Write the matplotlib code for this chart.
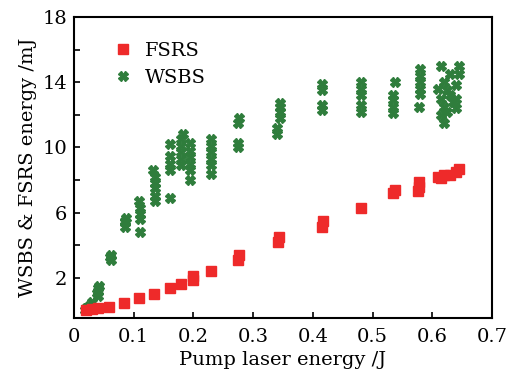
import matplotlib
matplotlib.use("Agg")
import matplotlib.pyplot as plt

plt.rcParams['font.family'] = ['DejaVu Serif']

fsrs_x = [0.02, 0.03, 0.04, 0.059, 0.084, 0.109, 0.134, 0.161, 0.179, 0.199, 0.2,
          0.229, 0.275, 0.277, 0.341, 0.343, 0.415, 0.417, 0.481, 0.534, 0.538,
          0.576, 0.577, 0.577, 0.61, 0.62, 0.63, 0.64, 0.645, 0.615]
fsrs_y = [0.05, 0.1, 0.15, 0.22, 0.47, 0.77, 1.0, 1.38, 1.63, 1.9, 2.1,
          2.43, 3.1, 3.4, 4.2, 4.5, 5.1, 5.5, 6.3, 7.2, 7.4,
          7.3, 7.6, 7.9, 8.2, 8.3, 8.3, 8.5, 8.7, 8.1]

wsbs_x = [0.018, 0.02, 0.025, 0.03, 0.03,
          0.04, 0.04, 0.042, 0.038, 0.04,
          0.062, 0.062, 0.06,
          0.085, 0.085, 0.087, 0.085,
          0.11, 0.11, 0.11, 0.11, 0.108,
          0.135, 0.135, 0.135, 0.135, 0.135, 0.133,
          0.16, 0.16, 0.16, 0.16, 0.16,
          0.18, 0.18, 0.18, 0.18, 0.18, 0.182,
          0.195, 0.195, 0.195, 0.195, 0.195, 0.195,
          0.23, 0.23, 0.23, 0.23, 0.23, 0.23,
          0.275, 0.275, 0.275, 0.277,
          0.34, 0.34, 0.345, 0.345, 0.345, 0.345,
          0.415, 0.415, 0.415, 0.415,
          0.48, 0.48, 0.48, 0.48, 0.48,
          0.535, 0.535, 0.535, 0.535, 0.537,
          0.578, 0.58, 0.58, 0.58, 0.58, 0.58,
          0.615, 0.62, 0.62, 0.615, 0.625, 0.62, 0.63, 0.635, 0.64, 0.64,
          0.645, 0.645, 0.615, 0.63, 0.64, 0.625, 0.61]
wsbs_y = [0.05, 0.15, 0.3, 0.5, 0.3,
          0.9, 1.2, 1.5, 1.1, 1.4,
          3.1, 3.4, 3.3,
          5.1, 5.4, 5.7, 5.5,
          4.8, 5.6, 5.9, 6.3, 6.7,
          6.7, 7.0, 7.5, 7.8, 8.2, 8.6,
          6.9, 8.6, 9.0, 9.5, 10.2,
          8.9, 9.3, 9.7, 10.1, 10.5, 10.8,
          8.0, 8.6, 9.0, 9.4, 9.8, 10.3,
          8.4, 8.9, 9.3, 9.7, 10.1, 10.5,
          10.0, 10.3, 11.5, 11.8,
          10.8, 11.2, 11.8, 12.2, 12.5, 12.7,
          12.3, 12.6, 13.5, 13.9,
          12.2, 12.6, 13.2, 13.6, 14.0,
          12.1, 12.5, 12.9, 13.2, 14.0,
          12.5, 13.3, 13.6, 14.0, 14.4, 14.8,
          12.0, 11.5, 12.5, 13.0, 13.5, 14.0, 13.2, 12.8, 13.0, 13.8,
          14.5, 15.0, 15.0, 14.5, 12.4, 12.2, 13.6]

xticks = [0, 0.1, 0.2, 0.3, 0.4, 0.5, 0.6, 0.7]
xtick_labels = ['0', '0.1', '0.2', '0.3', '0.4', '0.5', '0.6', '0.7']
yticks = [2, 4, 6, 8, 10, 12, 14, 16, 18]
ytick_labels = ['2', '', '6', '', '10', '', '14', '', '18']

fig = plt.figure(figsize=(5.19, 3.77), dpi=100)
ax = fig.add_axes([0.1426, 0.1565, 0.8054, 0.7985])

ax.plot(fsrs_x, fsrs_y, linestyle='none', marker='s', markersize=7,
        color='#ee2a2a', label='FSRS', zorder=3)
ax.plot(wsbs_x, wsbs_y, linestyle='none', marker='X', markersize=7,
        color='#2f7d3c', label='WSBS', zorder=2)

ax.set_xlim(0, 0.7)
ax.set_ylim(-0.46, 18)
ax.set_xticks(xticks)
ax.set_xticklabels(xtick_labels)
ax.set_yticks(yticks)
ax.set_yticklabels(ytick_labels)
ax.tick_params(direction='in', length=4, width=1.2, labelsize=14,
               top=False, right=False)
ax.tick_params(axis='x', pad=7)
ax.tick_params(axis='y', pad=5)
for s in ax.spines.values():
    s.set_linewidth(1.5)

ax.set_xlabel('Pump laser energy /J', fontsize=14, labelpad=4)
ax.set_ylabel('WSBS & FSRS energy /mJ', fontsize=14, labelpad=4)

ax.legend(loc='upper left', bbox_to_anchor=(0.03, 0.975), frameon=False,
          fontsize=14, handletextpad=0.1, labelspacing=0.45, markerscale=1.0)

fig.savefig('out.png', dpi=100)
